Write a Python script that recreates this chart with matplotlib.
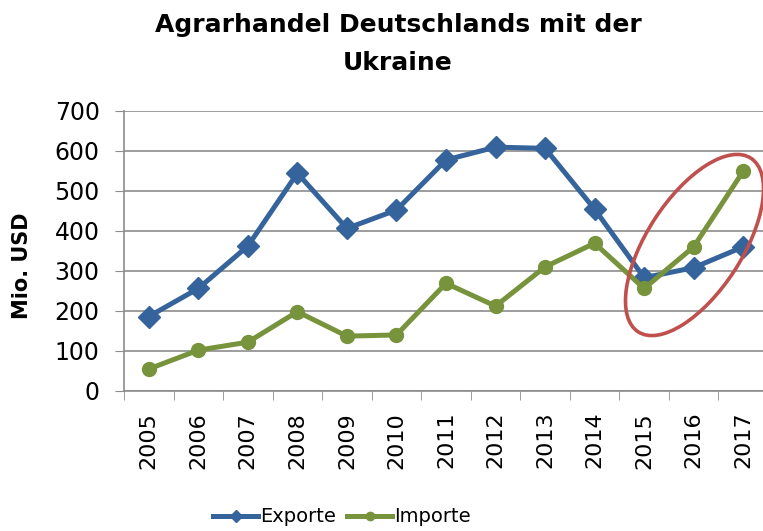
import matplotlib
matplotlib.use('Agg')
import matplotlib.pyplot as plt
from matplotlib.patches import Ellipse
from matplotlib.transforms import IdentityTransform

# Colors
blue = '#35639B'
green = '#77933C'
red = '#C0504D'
grid_color = '#8C8C8C'

# Data (Mio. USD)
years = ['2005', '2006', '2007', '2008', '2009', '2010', '2011',
         '2012', '2013', '2014', '2015', '2016', '2017']
exporte = [186, 256, 362, 544, 406, 452, 577, 609, 606, 454, 283, 308, 360]
importe = [55, 102, 122, 198, 137, 140, 269, 212, 310, 369, 256, 360, 549]

W, H = 763, 531
fig = plt.figure(figsize=(W / 100, H / 100), dpi=100)
fig.patch.set_facecolor('white')

ax = fig.add_axes([124 / W, 140 / H, (768 - 124) / W, (391 - 110.7) / H])
x = range(len(years))

ax.plot(x, exporte, color=blue, lw=3.6, marker='D', ms=11, label='Exporte', zorder=3)
ax.plot(x, importe, color=green, lw=3.6, marker='o', ms=10, label='Importe', zorder=3)

ax.set_ylim(0, 700)
ax.set_xlim(-0.5, len(years) - 0.5)
ax.set_yticks(range(0, 701, 100))
ax.set_xticks(list(x))
ax.set_xticklabels(years, rotation=90)
ax.set_xticks([i - 0.5 for i in range(len(years) + 1)], minor=True)

ax.grid(axis='y', color=grid_color, lw=1.2)
ax.set_axisbelow(True)
for s in ['top', 'right']:
    ax.spines[s].set_visible(False)
for s in ['left', 'bottom']:
    ax.spines[s].set_color(grid_color)
    ax.spines[s].set_linewidth(1.2)

ax.tick_params(axis='y', length=6.5, color=grid_color, pad=11, labelsize=17)
ax.tick_params(axis='x', which='major', length=0, pad=15, labelsize=16)
ax.tick_params(axis='x', which='minor', length=6.5, color=grid_color)

ax.set_ylabel('Mio. USD', fontsize=15, fontweight='bold')
ax.yaxis.set_label_coords(32 / W, 0.5, transform=fig.transFigure)

# Title
fig.text(398 / W, (H - 32) / H, 'Agrarhandel Deutschlands mit der', ha='center',
         va='baseline', fontsize=18, fontweight='bold')
fig.text(398 / W, (H - 70) / H, 'Ukraine', ha='center', va='baseline',
         fontsize=18, fontweight='bold')

# Highlight ellipse (pixel coords)
ell = Ellipse((694.5, H - 245), 207, 95, angle=57, transform=IdentityTransform(),
              fill=False, edgecolor=red, lw=2.6, zorder=5)
fig.patches.append(ell)

# Legend
fig.legend(loc='center', bbox_to_anchor=(342 / W, 14 / H), ncol=2, frameon=False,
           fontsize=14, markerscale=0.6,
           handlelength=2.3, handletextpad=0.1, columnspacing=0.6, borderpad=0)

fig.savefig('out.png', dpi=100)
